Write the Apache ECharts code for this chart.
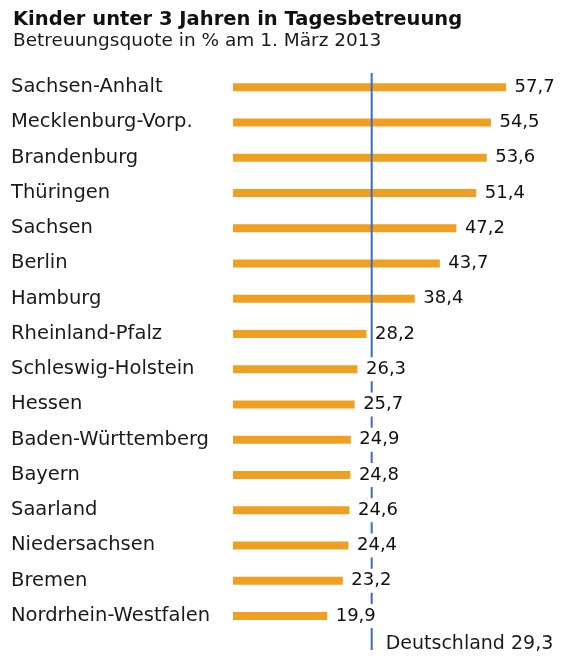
<!DOCTYPE html>
<html><head><meta charset="utf-8">
<script src="https://cdn.jsdelivr.net/npm/echarts@6/dist/echarts.min.js"></script>
<style>html,body{margin:0;padding:0;background:#fff}#c{width:563px;height:657px}</style>
</head><body><div id="c"></div>
<script>
const categories = ["Sachsen-Anhalt","Mecklenburg-Vorp.","Brandenburg","Thüringen","Sachsen","Berlin","Hamburg","Rheinland-Pfalz","Schleswig-Holstein","Hessen","Baden-Württemberg","Bayern","Saarland","Niedersachsen","Bremen","Nordrhein-Westfalen"];
const values = [57.7,54.5,53.6,51.4,47.2,43.7,38.4,28.2,26.3,25.7,24.9,24.8,24.6,24.4,23.2,19.9];
const germanyValue = 29.3;
const germanyLabel = "Deutschland";
const titleText = "Kinder unter 3 Jahren in Tagesbetreuung";
const subtitleText = "Betreuungsquote in % am 1. März 2013";

const fmt = v => v.toFixed(1).replace('.', ',');
const FONT = 'DejaVu Sans';
const chart = echarts.init(document.getElementById('c'), null, {renderer:'canvas'});
chart.setOption({
  animation:false,
  backgroundColor:'#fff',
  title:{text:titleText, subtext:subtitleText, left:8, top:5, itemGap:2,
    textStyle:{fontFamily:FONT, fontSize:19.5, fontWeight:'bold', color:'#111'},
    subtextStyle:{fontFamily:FONT, fontSize:18.5, color:'#1a1a1a'}},
  grid:[{left:233, right:46, top:69.5, bottom:23.5},
        {left:233, right:46, top:73, bottom:7}],
  xAxis:[{type:'value', gridIndex:0, min:0, max:60, show:false},
         {type:'value', gridIndex:1, min:0, max:60, show:false}],
  yAxis:[{type:'category', gridIndex:0, data:categories, inverse:true,
          axisLine:{show:false}, axisTick:{show:false}, splitLine:{show:false},
          axisLabel:{align:'left', margin:222, fontFamily:FONT, fontSize:19.5, color:'#1a1a1a'}},
         {type:'value', gridIndex:1, min:0, max:1, inverse:true, show:false}],
  series:[
    {type:'bar', xAxisIndex:0, yAxisIndex:0, data:values, barWidth:8, z:1,
     itemStyle:{color:'#F0A020'}},
    {type:'line', xAxisIndex:1, yAxisIndex:1, z:2, symbol:'none',
     data:[[germanyValue,0],[germanyValue,1]],
     lineStyle:{color:'#3B6CC0', width:2},
     endLabel:{show:true, formatter:()=>germanyLabel+' '+fmt(germanyValue), distance:0, offset:[14,-6],
       fontFamily:FONT, fontSize:19, color:'#1a1a1a'}},
    {type:'scatter', xAxisIndex:0, yAxisIndex:0, z:3, symbolSize:1,
     itemStyle:{color:'rgba(0,0,0,0)', opacity:1},
     data:values.map((v,i)=>[v,i]),
     label:{show:true, position:'right', distance:8, formatter:p=>fmt(p.value[0]), opacity:1,
       backgroundColor:'#fff', padding:[3,0], fontFamily:FONT, fontSize:18, color:'#111'}}
  ]
});
</script></body></html>
